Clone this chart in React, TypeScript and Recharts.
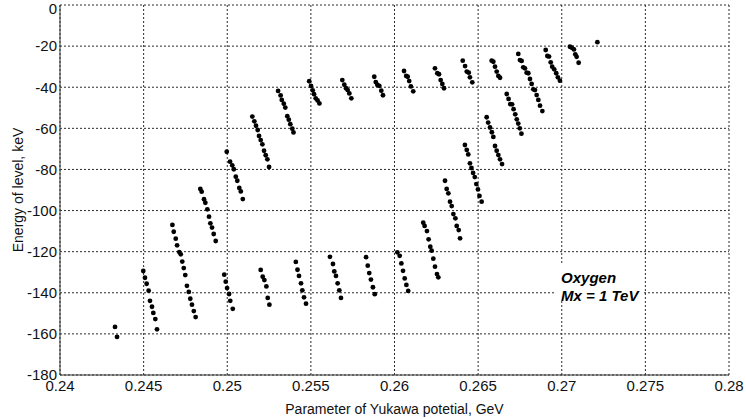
import React from 'react';
import { ScatterChart, Scatter, XAxis, YAxis, CartesianGrid, ReferenceArea, Label } from 'recharts';

type Pt = [number, number];

const X_TICKS = [0.24, 0.245, 0.25, 0.255, 0.26, 0.265, 0.27, 0.275, 0.28];
const Y_TICKS = [-180, -160, -140, -120, -100, -80, -60, -40, -20, 0];

// bottom row of levels, 0.243 .. 0.261 GeV
const lowerBand: Pt[] = [
  [0.24329, -156.6], [0.24341, -161.5],
  [0.24498, -129.4], [0.24508, -132.7], [0.24518, -135.6], [0.2453, -139.0], [0.24538, -143.9],
  [0.2455, -146.8], [0.24558, -149.8], [0.2457, -152.8], [0.2458, -157.8],
  [0.24982, -131.2], [0.24991, -134.6], [0.24999, -137.7], [0.25011, -140.6], [0.25018, -143.9], [0.25033, -147.8],
  [0.252, -128.9], [0.25212, -132.2], [0.25222, -133.8], [0.25234, -136.9], [0.25242, -142.5], [0.25252, -145.8],
  [0.2541, -125.0], [0.2542, -128.8], [0.25429, -131.8], [0.25441, -135.4], [0.25449, -138.8], [0.25459, -142.2], [0.25471, -145.3],
  [0.25614, -122.5], [0.25632, -126.0], [0.2564, -129.6], [0.2565, -131.8], [0.2566, -135.4], [0.2567, -138.8], [0.2568, -142.5],
  [0.2583, -122.7], [0.2584, -126.8], [0.25849, -130.4], [0.25859, -133.6], [0.25871, -137.3], [0.25882, -140.7],
  [0.26017, -120.3], [0.26031, -122.0], [0.26041, -125.7], [0.26051, -129.3], [0.26061, -133.0], [0.26071, -136.2], [0.26082, -139.1],
];

// levels climbing from the bottom row towards the top row
const risingBand: Pt[] = [
  [0.24672, -107.0], [0.2468, -110.3], [0.24692, -113.7], [0.247, -116.9], [0.24713, -120.2], [0.24722, -121.3],
  [0.24731, -124.8], [0.2474, -128.0], [0.24749, -131.4], [0.24759, -136.6], [0.2477, -139.6], [0.24779, -142.9],
  [0.24789, -145.8], [0.248, -148.9], [0.24811, -151.8],
  [0.24839, -89.5], [0.24847, -90.8], [0.24861, -94.5], [0.24869, -96.2], [0.24881, -99.4], [0.24891, -103.0],
  [0.24899, -106.2], [0.24909, -108.3], [0.24919, -111.4], [0.24931, -114.8],
  [0.24997, -71.4], [0.25017, -76.2], [0.2503, -78.0], [0.25039, -79.9], [0.25051, -83.5], [0.2506, -85.5],
  [0.25072, -89.0], [0.25081, -90.7], [0.25093, -94.4],
  [0.2515, -54.3], [0.25162, -56.6], [0.25172, -58.7], [0.25182, -60.8], [0.2519, -63.7], [0.252, -65.7],
  [0.2521, -67.8], [0.2522, -70.9], [0.2523, -73.1], [0.2524, -75.1], [0.2525, -78.8],
  [0.25304, -41.8], [0.25319, -44.0], [0.25326, -46.2], [0.25338, -48.0], [0.25347, -49.9], [0.25359, -54.1],
  [0.25368, -55.8], [0.25377, -58.0], [0.25389, -60.2], [0.25396, -62.0],
];

// top row of shallow levels
const topBand: Pt[] = [
  [0.2549, -37.1], [0.25501, -39.4], [0.25511, -41.5], [0.25519, -43.4], [0.25529, -45.4], [0.2554, -46.4], [0.25551, -47.9],
  [0.25688, -36.5], [0.257, -38.8], [0.2571, -40.5], [0.2572, -41.4], [0.2573, -43.0], [0.25742, -45.4],
  [0.25879, -34.9], [0.25888, -37.5], [0.25897, -38.8], [0.25909, -39.3], [0.25921, -41.7], [0.25931, -43.9],
  [0.26057, -32.1], [0.2607, -34.5], [0.26079, -34.9], [0.26088, -37.0], [0.26098, -39.6], [0.26112, -42.0],
  [0.26242, -30.8], [0.26256, -33.2], [0.26266, -33.7], [0.26276, -36.5], [0.26286, -38.4], [0.26296, -40.5],
  [0.26408, -27.1], [0.26422, -29.7], [0.26432, -32.4], [0.26444, -32.9], [0.26451, -35.2], [0.26465, -37.6],
  [0.26581, -27.1], [0.26591, -27.6], [0.26601, -30.0], [0.26611, -32.4], [0.26621, -34.5], [0.26631, -35.4],
  [0.2674, -23.8], [0.2675, -26.8], [0.2676, -27.2], [0.2677, -30.3], [0.2678, -30.8], [0.2679, -32.9], [0.268, -33.2],
  [0.2681, -36.0], [0.2682, -38.4], [0.2683, -41.0], [0.2684, -41.4], [0.2685, -43.8], [0.2686, -46.2], [0.2687, -49.0], [0.26884, -51.6],
  [0.26904, -21.9], [0.26914, -24.8], [0.26924, -25.1], [0.26934, -27.9], [0.26943, -30.0], [0.26955, -31.3],
  [0.26967, -33.2], [0.26977, -35.2], [0.26989, -36.8],
  [0.27049, -20.3], [0.27061, -20.8], [0.27073, -21.6], [0.27081, -24.0], [0.27089, -25.2], [0.27101, -28.1],
  [0.27213, -18.1],
];

// levels on the right closing the loop back up
const returnBand: Pt[] = [
  [0.26172, -105.9], [0.2618, -107.5], [0.26194, -110.0], [0.26204, -114.0], [0.26214, -117.6], [0.26222, -119.5],
  [0.26232, -123.4], [0.26242, -127.3], [0.26254, -130.9], [0.26262, -132.5],
  [0.26302, -85.5], [0.26312, -89.5], [0.26322, -91.6], [0.26332, -95.7], [0.26342, -97.8], [0.26352, -101.7],
  [0.26364, -103.8], [0.26372, -107.5], [0.26384, -109.5], [0.26392, -113.5],
  [0.26421, -68.1], [0.26432, -70.5], [0.26441, -72.7], [0.26451, -77.0], [0.2646, -79.3], [0.2647, -81.7],
  [0.2648, -83.7], [0.26489, -87.1], [0.26499, -89.7], [0.26508, -92.9], [0.26521, -95.7],
  [0.26551, -54.6], [0.2656, -57.2], [0.26571, -59.6], [0.26582, -61.9], [0.26591, -64.2], [0.26601, -68.6],
  [0.26611, -70.9], [0.26621, -73.0], [0.26631, -75.1], [0.26643, -77.4],
  [0.26671, -43.3], [0.26682, -45.7], [0.26692, -48.2], [0.26703, -48.3], [0.26712, -50.7], [0.26722, -53.2],
  [0.26731, -55.6], [0.2674, -57.7], [0.26749, -60.0], [0.26759, -62.6],
];

const FONT = '"Liberation Sans", Arial, Helvetica, sans-serif';

const toRows = (pts: Pt[]) => pts.map(([x, y]) => ({ x, y }));

const Dot = (props: any) => <circle cx={props.cx} cy={props.cy} r={2.4} fill="#000" />;

const Note = ({ viewBox }: any) => {
  const { x, y } = viewBox;
  const style = { fontFamily: FONT, fontSize: 15, fontWeight: 700, fontStyle: 'italic' as const, fill: '#000' };
  return (
    <g>
      <text x={x + 6} y={y + 19} style={style}>Oxygen</text>
      <text x={x + 6} y={y + 37} style={style}>Mx = 1 TeV</text>
    </g>
  );
};

export default function App() {
  const tick = { fill: '#111', fontSize: 15, fontFamily: FONT };
  return (
    <div style={{ position: 'absolute', left: 0, top: 0, background: '#fff' }}>
      <ScatterChart width={746} height={419} margin={{ top: 5, right: 17, bottom: 0, left: 0 }}>
        <CartesianGrid stroke="#2a2a2a" strokeDasharray="2 2" />
        <XAxis
          type="number"
          dataKey="x"
          domain={[0.24, 0.28]}
          ticks={X_TICKS}
          height={44}
          stroke="#333"
          tickLine={false}
          tickSize={0}
          tickMargin={5}
          tick={tick}
          allowDataOverflow
        >
          <Label
            value="Parameter of Yukawa potetial, GeV"
            position="insideBottom"
            offset={5}
            style={{ fontFamily: FONT, fontSize: 14, fill: '#111' }}
          />
        </XAxis>
        <YAxis
          type="number"
          dataKey="y"
          domain={[-180, 0]}
          ticks={Y_TICKS}
          width={60}
          stroke="#333"
          tickLine={false}
          tickSize={0}
          tickMargin={3}
          tick={tick}
          allowDataOverflow
        >
          <Label
            value="Energy of level, keV"
            angle={-90}
            position="insideLeft"
            offset={18}
            style={{ fontFamily: FONT, fontSize: 14, fill: '#111', textAnchor: 'middle' }}
          />
        </YAxis>
        <ReferenceArea x1={0.2696} x2={0.2749} y1={-143.5} y2={-126} fill="#fff" fillOpacity={1} stroke="none">
          <Label content={Note} />
        </ReferenceArea>
        <Scatter data={toRows(lowerBand)} shape={Dot} isAnimationActive={false} />
        <Scatter data={toRows(risingBand)} shape={Dot} isAnimationActive={false} />
        <Scatter data={toRows(topBand)} shape={Dot} isAnimationActive={false} />
        <Scatter data={toRows(returnBand)} shape={Dot} isAnimationActive={false} />
      </ScatterChart>
    </div>
  );
}
